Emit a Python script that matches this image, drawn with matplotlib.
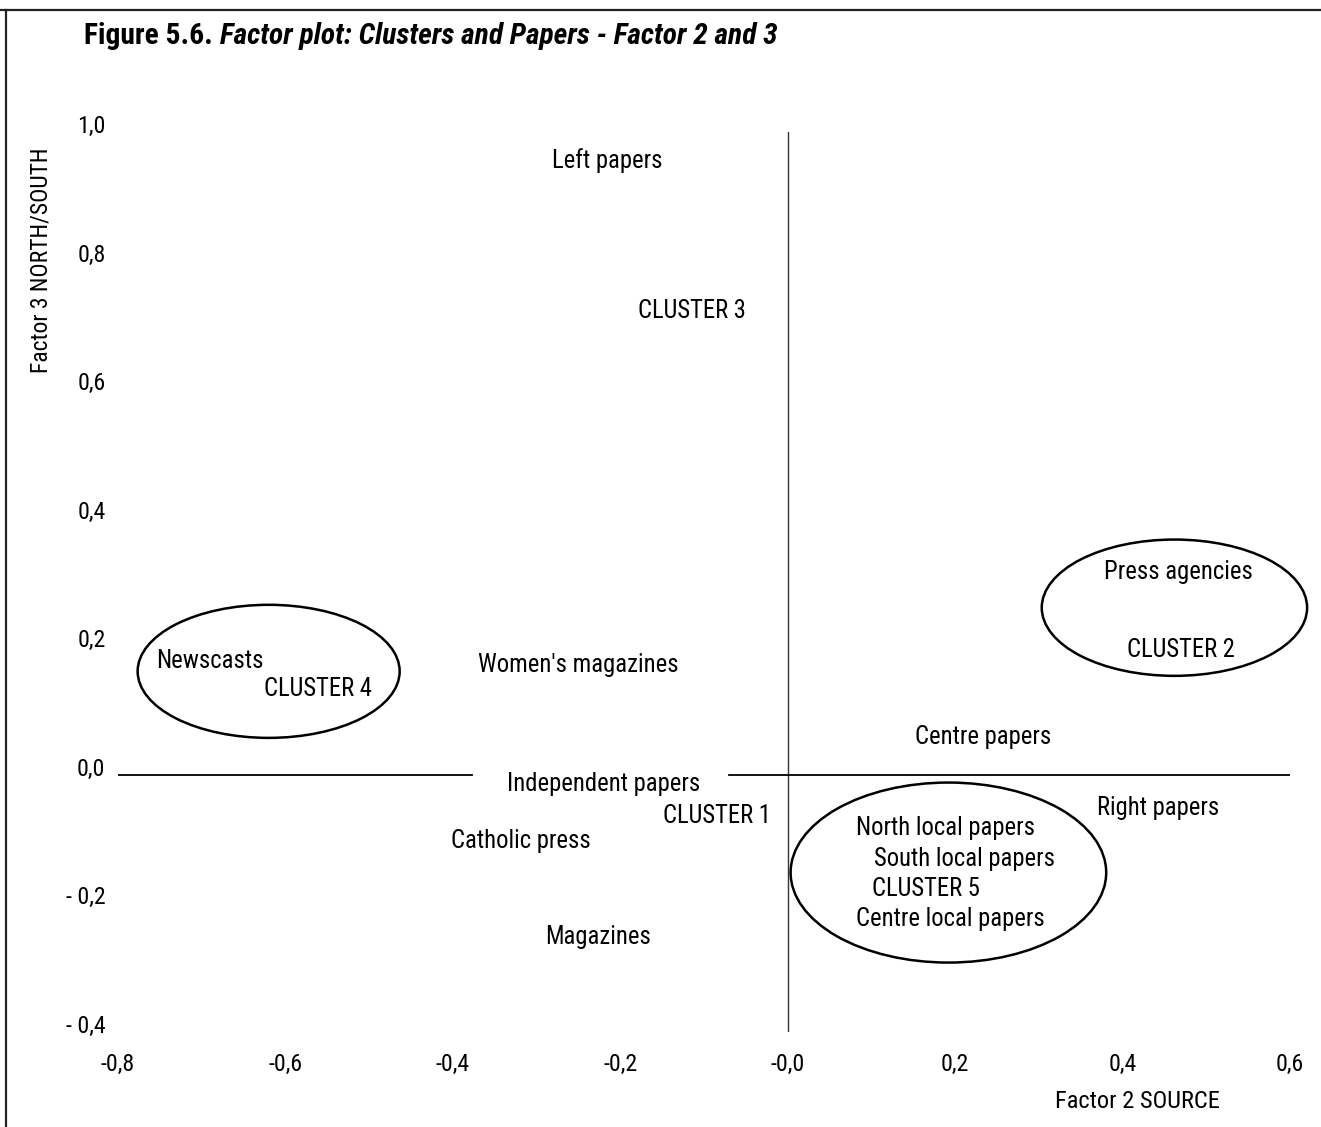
import matplotlib
matplotlib.use("Agg")
import matplotlib.pyplot as plt
from matplotlib.patches import Ellipse
from matplotlib.lines import Line2D
from matplotlib.transforms import ScaledTranslation
from matplotlib import font_manager
from matplotlib.textpath import TextPath
from matplotlib.font_manager import FontProperties

# Factor scores (Factor 2 = SOURCE, Factor 3 = NORTH/SOUTH)
labels = [
    "Left papers", "CLUSTER 3", "Press agencies", "CLUSTER 2",
    "Newscasts", "CLUSTER 4", "Women's magazines", "Centre papers",
    "Independent papers", "CLUSTER 1", "Right papers", "Catholic press",
    "North local papers", "South local papers", "CLUSTER 5",
    "Centre local papers", "Magazines",
]
factor2 = [-0.215, -0.114, 0.467, 0.470, -0.690, -0.561, -0.250, 0.234,
           -0.220, -0.084, 0.443, -0.319, 0.189, 0.211, 0.165, 0.194, -0.227]
factor3 = [0.955, 0.722, 0.316, 0.194, 0.177, 0.134, 0.171, 0.059,
           -0.014, -0.064, -0.051, -0.103, -0.082, -0.131, -0.177, -0.224, -0.252]

# Cluster groupings drawn as ellipses: centre (x, y), width, height
ellipse_x = [-0.620, 0.462, 0.192]
ellipse_y = [0.161, 0.260, -0.152]
ellipse_w = [0.313, 0.317, 0.377]
ellipse_h = [0.207, 0.212, 0.280]

x_ticks = [-0.8, -0.6, -0.4, -0.2, 0.0, 0.2, 0.4, 0.6]
x_ticklabels = ["-0,8", "-0,6", "-0,4", "-0,2", "-0,0", "0,2", "0,4", "0,6"]
y_ticks = [-0.4, -0.2, 0.0, 0.2, 0.4, 0.6, 0.8, 1.0]
y_ticklabels = ["- 0,4", "- 0,2", "0,0", "0,2", "0,4", "0,6", "0,8", "1,0"]

# horizontal axis line is interrupted behind the "Independent papers" label
hline_gap = (-0.377, -0.0706)

# prefer a narrow sans face when one is installed
family, stretch = "DejaVu Sans", "normal"
entries = font_manager.fontManager.ttflist
for pref in ("Liberation Sans Narrow", "Roboto Condensed", "Open Sans Condensed",
             "Noto Sans Condensed", "DejaVu Sans Condensed"):
    if any(f.name == pref for f in entries):
        family = pref
        break
else:
    for f in entries:
        st = f.stretch
        narrowish = (st in ("condensed", "semi-condensed", "extra-condensed",
                            "ultra-condensed")) or (isinstance(st, int) and st < 500)
        if narrowish and f.name in ("DejaVu Sans", "Noto Sans", "Open Sans", "Roboto",
                                    "Liberation Sans", "Lato", "Inter"):
            family, stretch = f.name, st
            break

plt.rcParams["font.family"] = [family, "DejaVu Sans"]
plt.rcParams["font.stretch"] = stretch


def width_px(text, size, **kw):
    fp = FontProperties(family=family, stretch=stretch, size=size, **kw)
    ext = TextPath((0, 0), text, prop=fp).get_extents()
    return ext.width * 100 / 72


def fit(text, target_px, cap, **kw):
    s = 10 * target_px / width_px(text, 10, **kw)
    return min(s, cap)


label_fs = fit("Press agencies", 145, 21)
tick_fs = label_fs * 0.97
xlabel_fs = fit("Factor 2 SOURCE", 162, label_fs)
ylabel_fs = fit("Factor 3 NORTH/SOUTH", 222, label_fs)
title_fs = fit("Figure 5.6. Factor plot: Clusters and Papers - Factor 2 and 3", 705, 22,
               weight="bold")

fig = plt.figure(figsize=(13.21, 11.27), dpi=100)
ax = fig.add_axes([0.0893, 0.0843, 0.8872, 0.7986])
ax.set_xlim(-0.8, 0.6)
ax.set_ylim(-0.4, 1.0)
for s in ax.spines.values():
    s.set_visible(False)

ax.set_xticks(x_ticks)
ax.set_xticklabels(x_ticklabels, fontsize=tick_fs)
ax.set_yticks(y_ticks)
ax.set_yticklabels(y_ticklabels, fontsize=tick_fs)
ax.tick_params(axis="both", length=0)
ax.tick_params(axis="x", pad=15)
ax.tick_params(axis="y", pad=9)
shift_up = ScaledTranslation(0, 8 / 100, fig.dpi_scale_trans)
for lab in ax.get_yticklabels():
    lab.set_transform(lab.get_transform() + shift_up)
    lab.set_horizontalalignment("right")

# axis cross
ax.plot([0, 0], [-0.4, 1.0], color="#333333", lw=1.0)
ax.plot([-0.8, hline_gap[0]], [0, 0], color="black", lw=1.3)
ax.plot([hline_gap[1], 0.6], [0, 0], color="black", lw=1.3)

for cx, cy, w, h in zip(ellipse_x, ellipse_y, ellipse_w, ellipse_h):
    ax.add_patch(Ellipse((cx, cy), w, h, fill=False, edgecolor="black", lw=1.8,
                         clip_on=False))

for lab, xv, yv in zip(labels, factor2, factor3):
    ax.text(xv, yv, lab, ha="center", va="center", fontsize=label_fs, color="black")

fig.text(1137 / 1321, 1 - 1101 / 1127, "Factor 2 SOURCE", fontsize=xlabel_fs,
         ha="center", va="center")
fig.text(41 / 1321, 1 - 260 / 1127, "Factor 3 NORTH/SOUTH", fontsize=ylabel_fs,
         rotation=90, ha="center", va="center")

# title: bold lead-in followed by italic caption
title_x, title_y = 84 / 1321, 1 - 36 / 1127
t1 = fig.text(title_x, title_y, "Figure 5.6. ", fontsize=title_fs, fontweight="bold",
              ha="left", va="center")
fig.canvas.draw()
bb = t1.get_window_extent()
fig.text(bb.x1 / fig.bbox.width, title_y,
         "Factor plot: Clusters and Papers - Factor 2 and 3",
         fontsize=title_fs, fontweight="bold", fontstyle="italic",
         ha="left", va="center")

# page frame on the top and left edges
fig.add_artist(Line2D([0, 1], [1 - 10 / 1127, 1 - 10 / 1127], transform=fig.transFigure,
                      color="#222222", lw=1.6))
fig.add_artist(Line2D([6 / 1321, 6 / 1321], [0, 1 - 10 / 1127], transform=fig.transFigure,
                      color="#222222", lw=1.6))

fig.savefig("out.png", dpi=100)
